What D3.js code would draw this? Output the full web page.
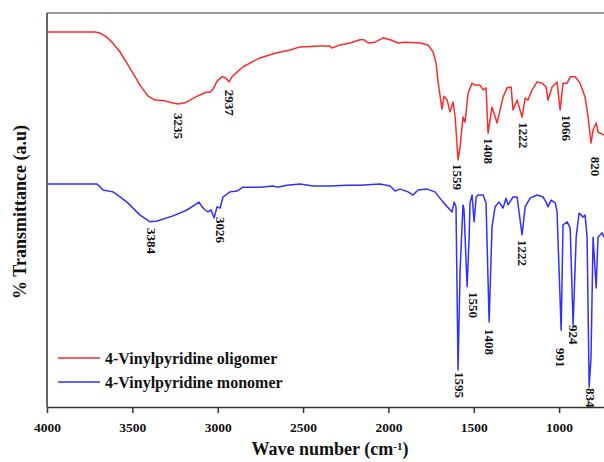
<!DOCTYPE html>
<meta charset="utf-8">
<style>
body { margin: 0; background: #fff; }
text { font-family: 'Liberation Serif', 'Times New Roman', serif; font-weight: bold; fill: #111; }
.tick text { font-size: 13.5px; }
.peak { font-size: 13px; }
</style>
<svg width="604" height="462"></svg>
<script src="https://d3js.org/d3.v7.min.js"></script>
<script>
// FTIR spectra, wave number (cm-1) vs % transmittance (a.u)
var oligomerWn = [4000, 3924, 3807, 3719, 3689, 3660, 3619, 3572, 3514, 3455, 3408, 3367, 3309, 3268, 3232, 3191, 3150, 3104, 3068, 3045, 3027, 3004, 2975, 2951, 2934, 2916, 2887, 2852, 2811, 2752, 2664, 2576, 2518, 2400, 2342, 2330, 2283, 2225, 2166, 2143, 2119, 2078, 2031, 1990, 1943, 1902, 1814, 1768, 1738, 1721, 1709, 1686, 1674, 1656, 1639, 1621, 1609, 1592, 1580, 1563, 1551, 1533, 1510, 1492, 1463, 1445, 1428, 1416, 1393, 1363, 1328, 1305, 1281, 1270, 1246, 1217, 1199, 1182, 1158, 1129, 1100, 1076, 1065, 1041, 1012, 994, 977, 953, 935, 906, 877, 848, 830, 813, 801, 783, 772, 737];
var oligomerT = [95.2, 95.2, 95.2, 95.2, 94.9, 94.2, 92.6, 90.1, 86.0, 81.7, 78.9, 77.9, 77.7, 77.2, 76.9, 77.2, 78.2, 79.2, 79.9, 79.9, 80.7, 82.7, 83.8, 83.5, 82.5, 83.8, 85.0, 86.3, 87.3, 88.6, 89.8, 90.6, 91.4, 91.6, 91.6, 91.1, 91.9, 92.4, 93.2, 93.2, 92.4, 92.6, 93.7, 93.2, 92.4, 92.6, 92.4, 91.9, 90.1, 87.3, 82.5, 75.6, 78.9, 77.9, 74.9, 77.4, 73.6, 62.7, 66.0, 73.6, 72.3, 79.7, 82.2, 81.7, 81.7, 80.5, 81.0, 69.5, 76.1, 72.1, 78.7, 81.0, 81.2, 75.4, 77.9, 73.6, 78.4, 77.9, 80.5, 82.5, 82.2, 81.2, 77.9, 81.2, 82.5, 75.4, 82.2, 82.2, 83.8, 83.8, 82.2, 78.7, 73.6, 67.0, 70.3, 72.1, 69.8, 69.0];

var monomerWn = [4000, 3707, 3672, 3613, 3531, 3455, 3396, 3355, 3262, 3180, 3109, 3092, 3074, 3057, 3039, 3021, 3004, 2986, 2969, 2928, 2887, 2852, 2752, 2676, 2652, 2594, 2518, 2441, 2342, 2242, 2166, 2049, 1990, 1961, 1932, 1885, 1856, 1826, 1773, 1727, 1680, 1627, 1615, 1604, 1592, 1580, 1563, 1557, 1539, 1527, 1522, 1510, 1498, 1486, 1475, 1445, 1428, 1410, 1393, 1375, 1352, 1328, 1311, 1299, 1270, 1246, 1217, 1199, 1170, 1129, 1094, 1076, 1065, 1047, 1023, 1012, 988, 977, 953, 935, 918, 900, 883, 859, 848, 836, 824, 813, 801, 783, 772, 748, 737];
var monomerT = [56.6, 56.6, 55.1, 54.6, 52.0, 48.7, 47.0, 47.2, 48.5, 50.0, 52.0, 50.8, 50.0, 49.5, 50.0, 48.0, 50.8, 50.5, 53.3, 54.6, 54.8, 55.8, 55.8, 56.1, 55.8, 56.3, 56.6, 56.1, 56.1, 56.3, 56.3, 56.6, 56.1, 54.8, 55.3, 54.6, 53.8, 55.1, 55.3, 54.6, 52.0, 49.5, 52.0, 50.8, 9.4, 34.8, 51.3, 50.0, 30.5, 43.1, 51.8, 53.8, 47.0, 53.3, 53.8, 53.8, 51.8, 21.6, 45.7, 50.8, 52.0, 50.5, 53.0, 51.3, 53.3, 53.3, 43.7, 50.8, 53.0, 53.8, 53.3, 52.0, 50.8, 52.5, 51.8, 49.5, 19.5, 46.2, 47.0, 45.4, 20.8, 43.1, 49.2, 48.2, 48.7, 43.1, 5.1, 12.7, 43.1, 30.2, 43.1, 44.2, 43.1];

// peak annotations: text, wave number of label, transmittance at label top
var oligomerPeakText = ["3235", "2937", "1559", "1408", "1222", "1066", "820"];
var oligomerPeakWn = [3232, 2928, 1592, 1416, 1211, 959, 789];
var oligomerPeakTop = [74.6, 80.5, 61.7, 68.3, 72.3, 74.1, 63.5];

var monomerPeakText = ["3384", "3026", "1595", "1550", "1408", "1222", "991", "924", "834"];
var monomerPeakWn = [3385, 2986, 1586, 1504, 1410, 1217, 994, 918, 813];
var monomerPeakTop = [45.4, 48.2, 8.9, 29.2, 19.8, 42.4, 15.0, 20.8, 4.8];

var xTicks = [4000, 3500, 3000, 2500, 2000, 1500, 1000];
var seriesNames = ["4-Vinylpyridine oligomer", "4-Vinylpyridine monomer"];
var seriesColors = ["#ff2a2a", "#3030ff"];

var svg = d3.select("svg");
var plotL = 47, plotR = 604, plotT = 13, plotB = 407;

var x = d3.scaleLinear().domain([4000, 737]).range([plotL, plotR]);
var y = d3.scaleLinear().domain([0, 100]).range([plotB, plotT]);

svg.append("defs").append("clipPath").attr("id", "plot")
	.append("rect").attr("x", plotL).attr("y", plotT).attr("width", plotR - plotL).attr("height", plotB - plotT);

// frame
svg.append("line").attr("x1", plotL).attr("x2", plotR).attr("y1", plotT).attr("y2", plotT)
	.attr("stroke", "#777").attr("stroke-width", 1.5);
svg.append("line").attr("x1", plotL).attr("x2", plotL).attr("y1", plotT).attr("y2", plotB)
	.attr("stroke", "#333").attr("stroke-width", 1.5);

var xAxis = svg.append("g")
	.attr("transform", "translate(0," + plotB + ")")
	.call(d3.axisBottom(x).tickValues(xTicks).tickFormat(d3.format("d")).tickSize(6).tickSizeOuter(0).tickPadding(9));
xAxis.select(".domain").attr("stroke", "#333").attr("stroke-width", 1.5);
xAxis.selectAll(".tick line").attr("stroke", "#333").attr("stroke-width", 1.5);
xAxis.selectAll(".tick text").style("font-family", "'Liberation Serif', serif").style("font-weight", "bold").attr("fill", "#111");

var line = d3.line()
	.x(function(d) { return x(d[0]); })
	.y(function(d) { return y(d[1]); });

var series = [
	d3.zip(oligomerWn, oligomerT),
	d3.zip(monomerWn, monomerT)
];

svg.append("g").attr("clip-path", "url(#plot)")
	.selectAll("path")
	.data(series)
	.enter().append("path")
	.attr("d", line)
	.attr("fill", "none")
	.attr("stroke", function(d, i) { return seriesColors[i]; })
	.attr("stroke-width", 1.5)
	.attr("stroke-linejoin", "round");

function peakLabels(texts, wns, tops) {
	svg.append("g").selectAll("text")
		.data(texts)
		.enter().append("text")
		.attr("class", "peak")
		.attr("transform", function(d, i) { return "translate(" + x(wns[i]) + "," + y(tops[i]) + ") rotate(90)"; })
		.attr("dy", "0.35em")
		.text(function(d) { return d; });
}
peakLabels(oligomerPeakText, oligomerPeakWn, oligomerPeakTop);
peakLabels(monomerPeakText, monomerPeakWn, monomerPeakTop);

// legend
var legend = svg.append("g").selectAll("g")
	.data(seriesNames)
	.enter().append("g")
	.attr("transform", function(d, i) { return "translate(58," + (358 + i * 24) + ")"; });
legend.append("line").attr("x1", 0).attr("x2", 42)
	.attr("stroke", function(d, i) { return seriesColors[i]; }).attr("stroke-width", 1.5);
legend.append("text").attr("x", 47).attr("dy", "0.35em")
	.style("font-size", "16px")
	.text(function(d) { return d; });

// axis titles
var xt = svg.append("text")
	.attr("x", 330).attr("y", 455)
	.attr("text-anchor", "middle")
	.style("font-size", "18px");
xt.append("tspan").text("Wave number (cm");
xt.append("tspan").attr("dy", "-0.5em").style("font-size", "11px").text("-1");
xt.append("tspan").attr("dy", "5").text(")");

svg.append("text")
	.attr("transform", "translate(20,212) rotate(-90)")
	.attr("text-anchor", "middle")
	.attr("dy", "0.35em")
	.style("font-size", "18px")
	.text("% Transmittance (a.u)");
</script>
